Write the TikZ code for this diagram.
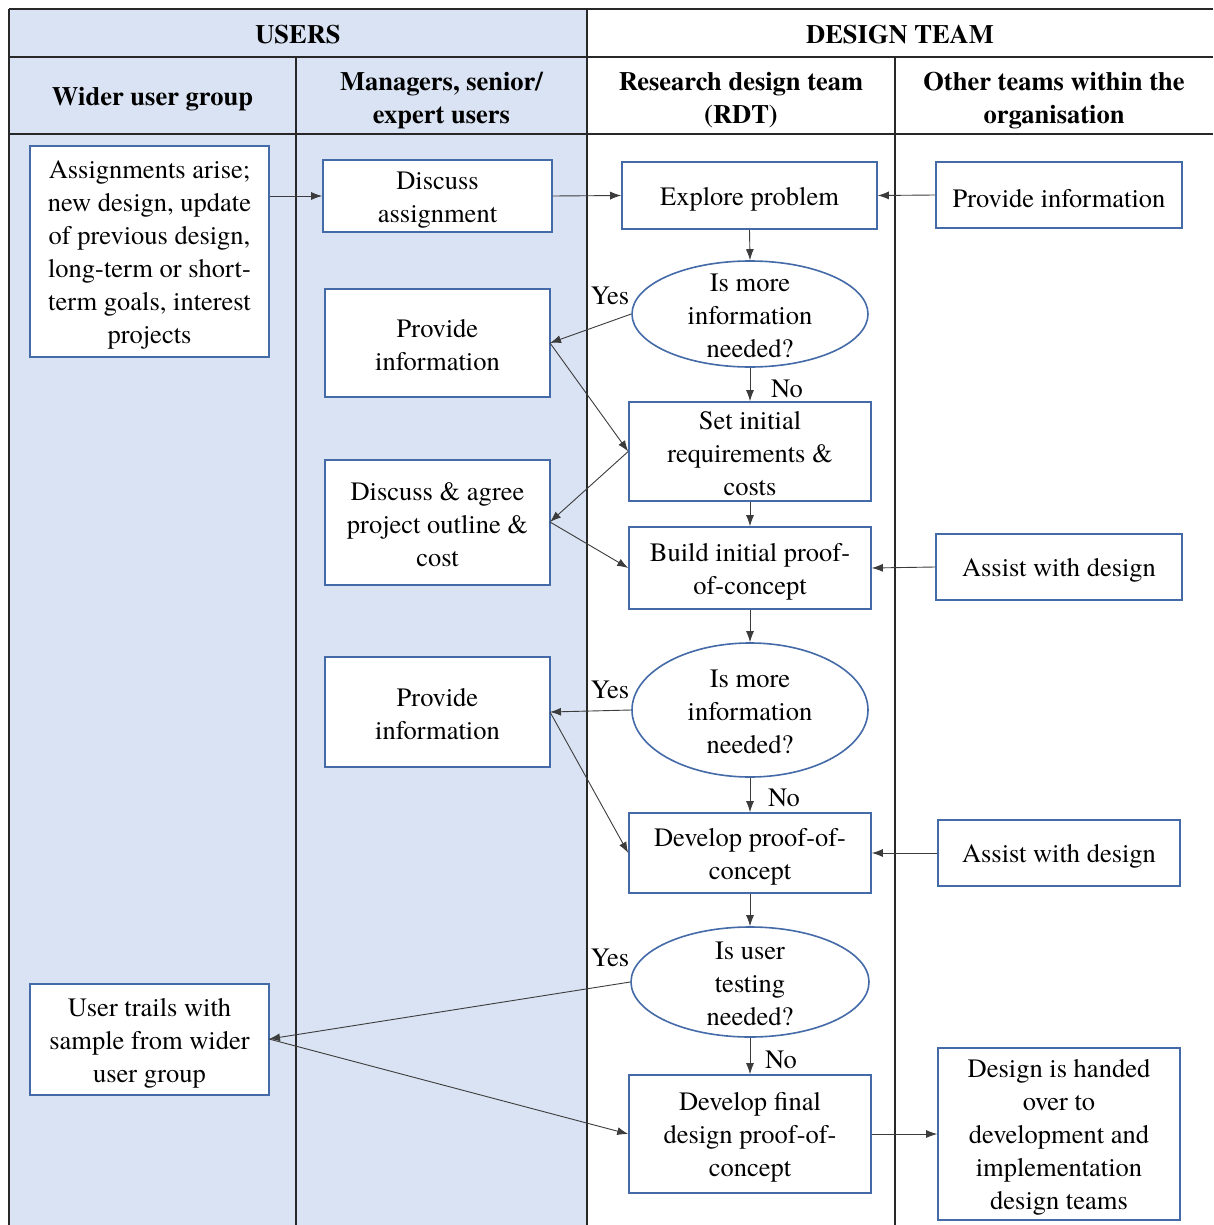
\documentclass[tikz,border=0pt]{standalone}
\usepackage{fontspec}
\setmainfont{texgyretermes}[Extension=.otf, UprightFont=*-regular, BoldFont=*-bold, ItalicFont=*-italic, BoldItalicFont=*-bolditalic]
\usetikzlibrary{shapes.geometric,arrows.meta}
\definecolor{lanefill}{RGB}{218,227,243}
\definecolor{boxblue}{RGB}{68,106,168}
\definecolor{gridline}{RGB}{40,40,40}
\definecolor{arrowgray}{RGB}{60,60,60}
\newcommand{\bxstrut}{\rule{0pt}{25pt}}
\newcommand{\elstrut}{\rule{0pt}{23pt}}
\newcommand{\eltext}[1]{\raisebox{-10pt}[0pt][0pt]{\begin{tabular}{@{}c@{}}#1\end{tabular}}}
\tikzset{
  txt/.style={font=\fontsize{26.5}{33}\selectfont, align=center},
  hdr/.style={font=\fontsize{26.5}{33}\selectfont\bfseries, align=center, inner sep=0},
  pbox/.style={txt, draw=boxblue, line width=1.6pt, fill=white, inner sep=0},
  decision/.style={font=\fontsize{26.5}{33}\selectfont, ellipse, draw=boxblue, line width=1.6pt, fill=white, inner sep=0},
  conn/.style={draw=arrowgray, line width=0.9pt, -{Latex[length=11pt,width=8pt]}},
  lbl/.style={font=\fontsize{26.5}{33}\selectfont, inner sep=0},
  grid/.style={draw=gridline, line width=1.6pt}
}
\begin{document}
\begin{tikzpicture}[x=1pt,y=-1pt]
\useasboundingbox (0,0) rectangle (1213,1225);
\fill[white] (0,0) rectangle (1213,1225);
% lanes
\fill[lanefill] (9,9) rectangle (587,1225);
\draw[grid] (9,9) -- (1213,9);
\draw[grid] (9,57) -- (1213,57);
\draw[grid] (9,134) -- (1213,134);
\draw[grid] (9,9) -- (9,1225);
\draw[grid] (587,9) -- (587,1225);
\draw[grid] (296,57) -- (296,1225);
\draw[grid] (895,57) -- (895,1225);
% headers
\node[hdr] (hU) at (298,35) {USERS};
\node[hdr] (hD) at (900,35) {DESIGN TEAM};
\node[hdr] (hW) at (152.5,99) {Wider user group};
\node[hdr] (hM) at (441.5,100.5) {Managers, senior/\\expert users};
\node[hdr] (hR) at (741,100.5) {Research design team\\(RDT)};
\node[hdr] (hO) at (1054,100.5) {Other teams within the\\organisation};
% nodes
\node[pbox, minimum width=239, minimum height=211] (assign) at (149.5,251.5)
  {\bxstrut Assignments arise;\\new design, update\\of previous design,\\long-term or short-\\term goals, interest\\projects};
\node[pbox, minimum width=229, minimum height=72] (discuss) at (437.5,196) {\bxstrut Discuss\\assignment};
\node[pbox, minimum width=255, minimum height=67] (explore) at (749.5,195.5) {\bxstrut Explore problem};
\node[pbox, minimum width=246, minimum height=66] (provO) at (1059,195) {\bxstrut Provide information};
\node[decision, minimum width=236, minimum height=106] (q1) at (750,314) {\eltext{Is more\\information\\needed?}};
\node[pbox, minimum width=225, minimum height=108] (prov1) at (437.5,343) {\elstrut Provide\\information};
\node[pbox, minimum width=242, minimum height=99] (setreq) at (750,451.5) {\elstrut Set initial\\requirements \&\\costs};
\node[pbox, minimum width=225, minimum height=125] (agree) at (437.5,522.5) {\elstrut Discuss \& agree\\project outline \&\\cost};
\node[pbox, minimum width=242, minimum height=82] (build) at (750,568) {\bxstrut Build initial proof-\\of-concept};
\node[pbox, minimum width=246, minimum height=66] (assist1) at (1059,567) {\bxstrut Assist with design};
\node[decision, minimum width=236, minimum height=134] (q2) at (750,710) {\eltext{Is more\\information\\needed?}};
\node[pbox, minimum width=225, minimum height=110] (prov2) at (437.5,712) {\elstrut Provide\\information};
\node[pbox, minimum width=242, minimum height=80] (devpoc) at (750,853) {\bxstrut Develop proof-of-\\concept};
\node[pbox, minimum width=242, minimum height=66] (assist2) at (1059,853) {\bxstrut Assist with design};
\node[decision, minimum width=238, minimum height=110] (q3) at (750,982) {\eltext{Is user\\testing\\needed?}};
\node[pbox, minimum width=239, minimum height=111] (trial) at (149.5,1039.5) {\bxstrut User trails with\\sample from wider\\user group};
\node[pbox, minimum width=242, minimum height=118] (final) at (750,1134) {\bxstrut Develop final\\design proof-of-\\concept};
\node[pbox, minimum width=242, minimum height=172] (handover) at (1059,1134) {\bxstrut Design is handed\\over to\\development and\\implementation\\design teams};
% helper coordinates
\coordinate (assignOut) at (assign.east |- discuss.west);
\coordinate (prov1E) at (550,343);
\coordinate (agreeE) at (550,522);
\coordinate (prov2E) at (550,712);
\coordinate (trialE) at (269,1039);
% connectors
\draw[conn] (assignOut) -- (discuss.west);
\draw[conn] (discuss.east) -- (explore.west);
\draw[conn] (provO.west) -- (explore.east);
\draw[conn] (explore.south) -- (q1.north);
\draw[conn] (q1.west) -- (prov1E);
\draw[conn] (q1.south) -- (setreq.north);
\draw[conn] (prov1E) -- (setreq.west);
\draw[conn] (setreq.west) -- (agreeE);
\draw[conn] (agreeE) -- (build.west);
\draw[conn] (setreq.south) -- (build.north);
\draw[conn] (assist1.west) -- (build.east);
\draw[conn] (build.south) -- (q2.north);
\draw[conn] (q2.west) -- (prov2E);
\draw[conn] (prov2E) -- (devpoc.west);
\draw[conn] (q2.south) -- (devpoc.north);
\draw[conn] (assist2.west) -- (devpoc.east);
\draw[conn] (devpoc.south) -- (q3.north);
\draw[conn] (q3.west) -- (trialE);
\draw[conn] (trialE) -- (final.west);
\draw[conn] (q3.south) -- (final.north);
\draw[conn] (final.east) -- (handover.west);
% labels
\node[lbl] (y1) at (610,296) {Yes};
\node[lbl] (n1) at (787,389) {No};
\node[lbl] (y2) at (610,690) {Yes};
\node[lbl] (n2) at (784,798) {No};
\node[lbl] (y3) at (610,958) {Yes};
\node[lbl] (n3) at (781,1060) {No};
\end{tikzpicture}
\end{document}
